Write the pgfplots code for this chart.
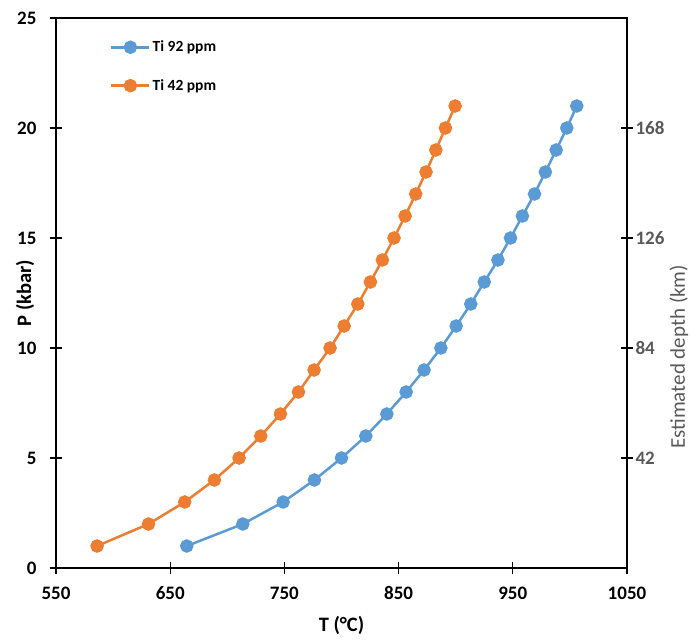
\documentclass[border=0pt]{standalone}
\usepackage{fontspec}
\setmainfont{Carlito}
\usepackage{pgfplots}
\pgfplotsset{compat=1.18}
\definecolor{tiblue}{HTML}{5B9BD5}
\definecolor{tiorange}{HTML}{ED7D31}
\definecolor{axgray}{HTML}{595959}
\begin{document}
\begin{tikzpicture}
\begin{axis}[
  scale only axis, width=571pt, height=550pt,
  xmin=550, xmax=1050, ymin=0, ymax=25,
  xtick={550,650,750,850,950,1050}, ytick={0,5,10,15,20,25},
  xticklabels={\textbf{550},\textbf{650},\textbf{750},\textbf{850},\textbf{950},\textbf{1050}},
  yticklabels={\textbf{0},\textbf{5},\textbf{10},\textbf{15},\textbf{20},\textbf{25}},
  xtick pos=left, ytick pos=left,
  tick align=center, major tick length=12pt,
  tick style={black, line width=1.2pt},
  axis line style={black, line width=1.3pt},
  ticklabel style={font=\fontsize{19}{21}\selectfont\bfseries},
  xticklabel style={yshift=-9pt},
  yticklabel style={xshift=-10pt},
  xlabel={\textbf{T (°C)}}, ylabel={\textbf{P (kbar)}},
  label style={font=\fontsize{20.5}{23}\selectfont\bfseries},
  xlabel style={at={(axis description cs:0.5,-0.1045)}, anchor=center},
  ylabel style={at={(axis description cs:-0.054,0.5)}, anchor=center},
  legend style={at={(axis description cs:0.0945,0.962)}, anchor=north west,
    draw=none, fill=none, font=\fontsize{15.5}{17}\selectfont\bfseries,
    row sep=22pt, inner sep=0pt},
  legend cell align=left,
  legend image code/.code={\draw[mark repeat=2,mark phase=2,#1] plot coordinates {(0pt,0pt) (19pt,0pt) (38pt,0pt)};},
]
\coordinate (sw) at (rel axis cs:0,0);
\addplot[color=tiblue, line width=2.5pt, mark=*, mark size=5.5pt, mark options={fill=tiblue, draw=tiblue}] coordinates {
(664.5,1) (713.6,2) (748.9,3) (776.3,4) (800,5) (821.3,6) (839.7,7) (856.6,8)
(872.3,9) (887,10) (900.4,11) (913.2,12) (925,13) (937,14) (948,15) (958.4,16)
(969,17) (978.5,18) (988,19) (997.3,20) (1006,21)};
\addlegendentry{Ti 92 ppm}
\addplot[color=tiorange, line width=2.5pt, mark=*, mark size=5.5pt, mark options={fill=tiorange, draw=tiorange}] coordinates {
(586,1) (631,2) (662.7,3) (688.7,4) (710.3,5) (729.3,6) (746.5,7) (762.3,8)
(776,9) (790,10) (802.3,11) (814.3,12) (825.3,13) (835.8,14) (846,15) (855.7,16)
(865,17) (874,18) (882.6,19) (891,20) (899.5,21)};
\addlegendentry{Ti 42 ppm}
\end{axis}
\begin{axis}[
  scale only axis, width=571pt, height=550pt,
  xmin=550, xmax=1050, ymin=0, ymax=210,
  axis x line=none, axis y line*=right,
  ytick={42,84,126,168},
  yticklabels={\textbf{42},\textbf{84},\textbf{126},\textbf{168}},
  tick align=center, major tick length=12pt,
  tick style={black, line width=1.2pt},
  axis line style={black, line width=1.3pt},
  ticklabel style={font=\fontsize{19}{21}\selectfont\bfseries, text=axgray},
  yticklabel style={xshift=-1pt},
  ylabel={Estimated depth (km)},
  ylabel style={at={(axis description cs:1.091,0.384)}, anchor=center, rotate=0,
    inner sep=0pt, font=\fontsize{21}{23}\selectfont, text=axgray},
]
\end{axis}
\pgfresetboundingbox
\path (sw) ++(-56pt,-73pt) rectangle ++(690pt,641pt);
\end{tikzpicture}
\end{document}
